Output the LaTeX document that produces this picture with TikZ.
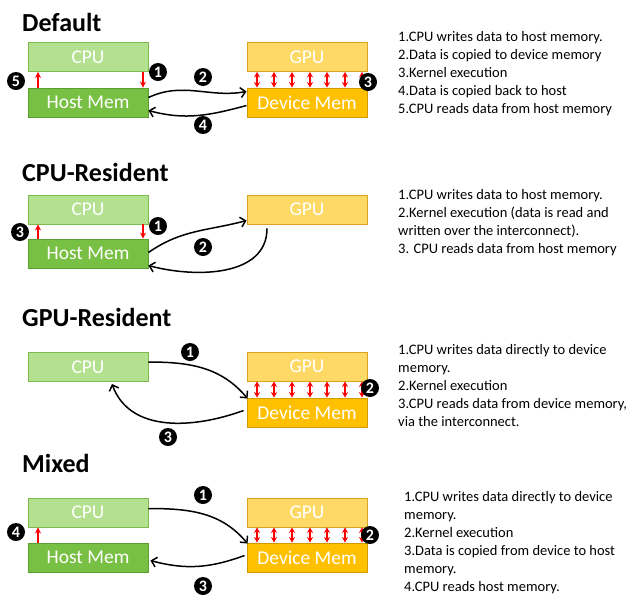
\documentclass[tikz,border=0pt]{standalone}
\usepackage{fontspec}
\setmainfont{Carlito}
\usetikzlibrary{arrows.meta}
\definecolor{cpufill}{HTML}{B3E190}
\definecolor{cpuline}{HTML}{7DBB4E}
\definecolor{hostfill}{HTML}{78C043}
\definecolor{hostline}{HTML}{5E9E30}
\definecolor{gpufill}{HTML}{FFD966}
\definecolor{gpuline}{HTML}{D9A520}
\definecolor{devfill}{HTML}{FFC000}
\definecolor{devline}{HTML}{D39A00}
\tikzset{
  unitbox/.style={draw, line width=0.9pt, minimum width=120pt, minimum height=29pt,
    inner sep=0pt, text=white, font=\fontsize{19.5}{21}\selectfont},
  cpubox/.style={unitbox, fill=cpufill, draw=cpuline},
  hostbox/.style={unitbox, fill=hostfill, draw=hostline},
  gpubox/.style={unitbox, fill=gpufill, draw=gpuline},
  devbox/.style={unitbox, fill=devfill, draw=devline},
  title/.style={anchor=west, inner sep=0pt, font=\bfseries\fontsize{26}{28}\selectfont},
  notes/.style={anchor=north west, inner sep=0pt, align=left,
    font=\fontsize{14.5}{18}\selectfont},
  badge/.style={circle, fill=black, text=white, inner sep=0pt, minimum size=18pt,
    font=\bfseries\fontsize{16}{16}\selectfont},
  flow/.style={line width=1.5pt, -{Straight Barb[length=5pt,width=10pt,line width=1.5pt]}},
  rw/.style={red, line width=1.6pt, -{Stealth[length=6pt,width=6pt]}},
  rw2/.style={red, line width=1.6pt, {Stealth[length=5.5pt,width=6pt]}-{Stealth[length=5.5pt,width=6pt]}},
}
\begin{document}
\begin{tikzpicture}[x=1pt, y=-1pt]
\path[use as bounding box] (0,0) rectangle (634,598);

% ---------------- Default ----------------
\node[title] (t1) at (22,22) {Default};
\node[cpubox]  (c1) at (88,57)    {CPU};
\node[hostbox] (h1) at (88,102.5) {Host Mem};
\node[gpubox]  (g1) at (307,57)   {GPU};
\node[devbox]  (d1) at (307,102.5){Device Mem};
\draw[rw] (h1.north west -| 38,0) -- (c1.south west -| 38,0);
\draw[rw] (c1.south east -| 143,0) -- (h1.north east -| 143,0);
\foreach \x in {257,274,292,310,327,345,362}
  \draw[rw2] (g1.south -| \x,0) -- (d1.north -| \x,0);
\draw[flow] ([yshift=5pt]h1.east) to[out=25,in=190] ([yshift=11pt]d1.west);
\draw[flow] ([yshift=-3pt]d1.west) to[out=195,in=-15] ([yshift=-8pt]h1.east);
\node[badge] (b15) at (16,81) {5};
\node[badge] (b11) at (158,72) {1};
\node[badge] (b12) at (203,77) {2};
\node[badge] (b14) at (203,125) {4};
\node[badge] (b13) at (368,82) {3};
\node[notes] (n1) at (398,31) {1.CPU writes data to host memory.\\2.Data is copied to device memory\\3.Kernel execution\\4.Data is copied back to host\\5.CPU reads data from host memory};

% ---------------- CPU-Resident ----------------
\node[title] (t2) at (22,172) {CPU-Resident};
\node[cpubox]  (c2) at (88,209.5)  {CPU};
\node[hostbox] (h2) at (88,253.5)  {Host Mem};
\node[gpubox]  (g2) at (307,209.5) {GPU};
\draw[rw] (h2.north west -| 38,0) -- (c2.south west -| 38,0);
\draw[rw] (c2.south east -| 143,0) -- (h2.north east -| 143,0);
\draw[flow] ([yshift=1pt]h2.east) to[out=35,in=195] ([yshift=-11pt]g2.west);
\draw[flow] ([xshift=-40pt,yshift=-4pt]g2.south) to[out=-90,in=-15] ([yshift=-12pt]h2.east);
\node[badge] (b23) at (20,232) {3};
\node[badge] (b21) at (158,226) {1};
\node[badge] (b22) at (203,247) {2};
\node[notes] (n2) at (398,189) {1.CPU writes data to host memory.\\2.Kernel execution (data is read and\\written over the interconnect).\\3. CPU reads data from host memory};

% ---------------- GPU-Resident ----------------
\node[title] (t3) at (22,317) {GPU-Resident};
\node[cpubox]  (c3) at (88,367)    {CPU};
\node[gpubox]  (g3) at (307,366.5) {GPU};
\node[devbox]  (d3) at (307,412.5) {Device Mem};
\foreach \x in {257,274,292,310,327,345,362}
  \draw[rw2] (g3.south -| \x,0) -- (d3.north -| \x,0);
\draw[flow] ([yshift=5pt]c3.east) to[out=0,in=130] ([xshift=1pt,yshift=-1pt]d3.north west);
\draw[flow] ([xshift=-3pt,yshift=2pt]d3.west) to[out=200,in=-70] ([xshift=24pt,yshift=-2pt]c3.south);
\node[badge] (b31) at (190,352) {1};
\node[badge] (b32) at (370,388) {2};
\node[badge] (b33) at (168,437) {3};
\node[notes] (n3) at (398,344) {1.CPU writes data directly to device\\memory.\\2.Kernel execution\\3.CPU reads data from device memory,\\via the interconnect.};

% ---------------- Mixed ----------------
\node[title] (t4) at (22,463) {Mixed};
\node[cpubox]  (c4) at (88,512.5)  {CPU};
\node[hostbox] (h4) at (88,557.5)  {Host Mem};
\node[gpubox]  (g4) at (307,512.5) {GPU};
\node[devbox]  (d4) at (307,557.5) {Device Mem};
\draw[rw] (h4.north west -| 38,0) -- (c4.south west -| 38,0);
\foreach \x in {257,274,292,310,327,345,362}
  \draw[rw2] (g4.south -| \x,0) -- (d4.north -| \x,0);
\draw[flow] ([yshift=4pt]c4.east) to[out=0,in=130] ([xshift=1pt,yshift=-1pt]d4.north west);
\draw[flow] ([xshift=-2pt,yshift=2pt]d4.west) to[out=200,in=-15] ([xshift=2pt,yshift=-3pt]h4.east);
\node[badge] (b44) at (16,532) {4};
\node[badge] (b41) at (203,495) {1};
\node[badge] (b42) at (370,535) {2};
\node[badge] (b43) at (203,586) {3};
\node[notes] (n4) at (404,491) {1.CPU writes data directly to device\\memory.\\2.Kernel execution\\3.Data is copied from device to host\\memory.\\4.CPU reads host memory.};
\end{tikzpicture}
\end{document}
